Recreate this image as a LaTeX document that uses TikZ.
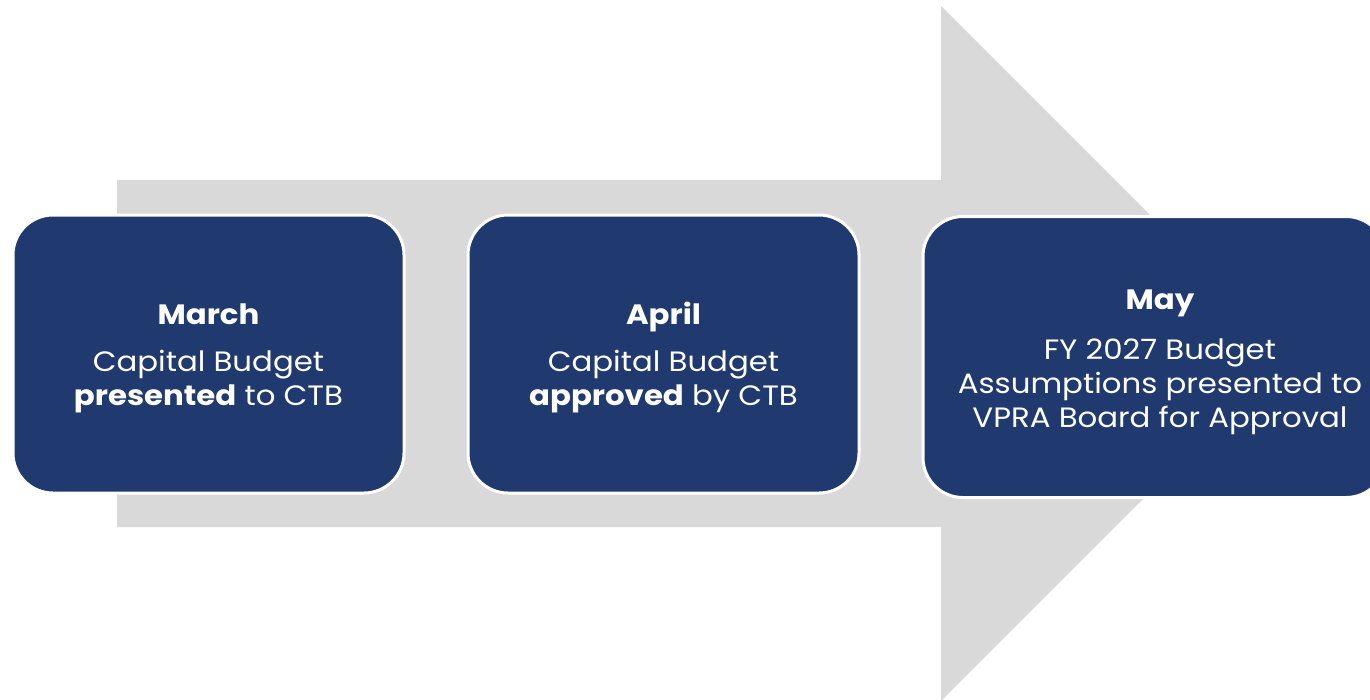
\documentclass[tikz,border=0pt]{standalone}
\usepackage{fontspec}
\setmainfont[FakeStretch=1.1]{Poppins}
\definecolor{boxblue}{RGB}{32,58,112}
\definecolor{arrowgray}{RGB}{217,217,217}
\begin{document}
\begin{tikzpicture}[x=1pt,y=-1pt,
  stagebox/.style={fill=boxblue, draw=white, line width=3pt, rounded corners=40pt,
    inner sep=0pt},
  stagetext/.style={text=white, align=center, inner sep=0pt,
    font=\fontsize{28}{34}\selectfont}]
\useasboundingbox (0,0) rectangle (1370,699);
\fill[arrowgray] (117,180) -- (941,180) -- (941,6) -- (1288.5,353.5) -- (941,701) -- (941,527) -- (117,527) -- cycle;
\node[stagebox, minimum width=391pt, minimum height=278pt] (march) at (208.5,354) {};
\node[stagetext] (marchtext) at (march.center) [yshift=-4pt]
  {\textbf{March}\\[13pt]Capital Budget\\\textbf{presented} to CTB};
\node[stagebox, minimum width=391pt, minimum height=278pt] (april) at (663.5,354) {};
\node[stagetext] (apriltext) at (april.center) [yshift=-4pt]
  {\textbf{April}\\[13pt]Capital Budget\\\textbf{approved} by CTB};
\node[stagebox, minimum width=463pt, minimum height=281pt] (may) at (1154.5,357) {};
\node[stagetext] (maytext) at (1160,362.5)
  {\textbf{May}\\[16pt]FY 2027 Budget\\Assumptions presented to\\VPRA Board for Approval};
\end{tikzpicture}
\end{document}
